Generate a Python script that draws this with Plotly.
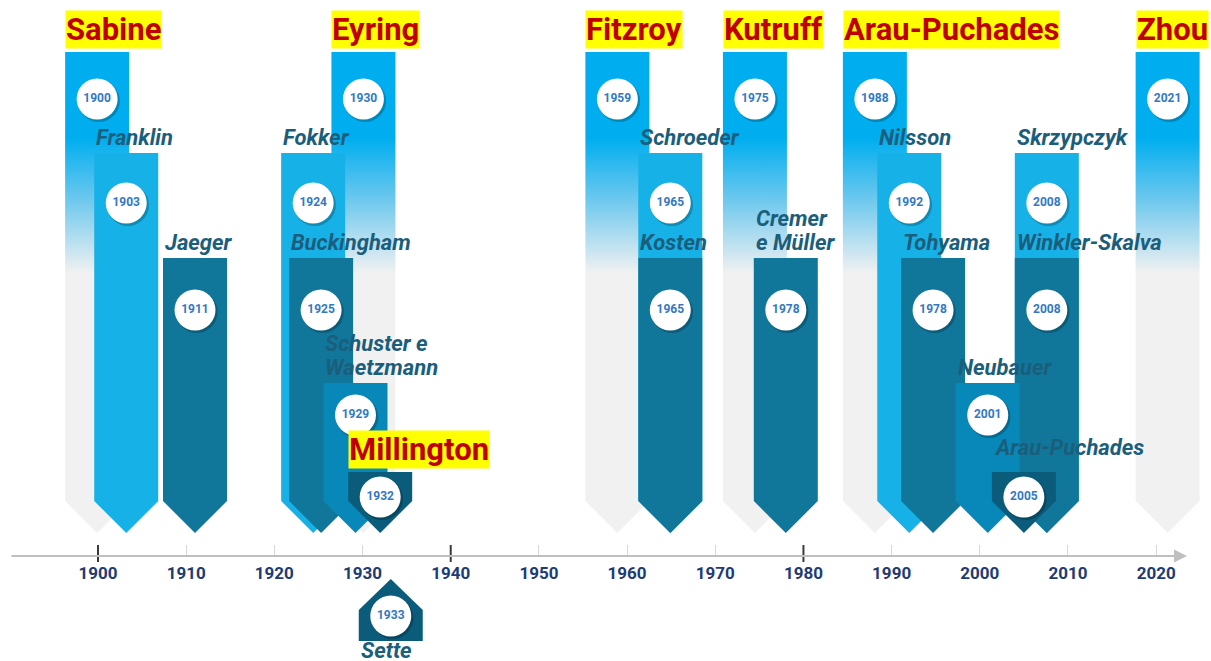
import plotly.graph_objects as go

# ---------------- data ----------------
names = ["Sabine", "Franklin", "Jaeger", "Fokker", "Buckingham", "Schuster e<br>Waetzmann",
         "Eyring", "Millington", "Sette", "Fitzroy", "Schroeder", "Kosten", "Kutruff",
         "Cremer<br>e Müller", "Arau-Puchades", "Nilsson", "Tohyama", "Neubauer",
         "Arau-Puchades", "Skrzypczyk", "Winkler-Skalva", "Zhou"]
year_labels = ["1900", "1903", "1911", "1924", "1925", "1929", "1930", "1932", "1933", "1959",
               "1965", "1965", "1975", "1978", "1988", "1992", "1978", "2001", "2005", "2008",
               "2008", "2021"]
positions = [1899.9, 1903.2, 1911.0, 1924.4, 1925.3, 1929.2, 1930.1, 1932.0, 1933.2, 1958.9,
             1964.9, 1964.9, 1974.5, 1978.0, 1988.1, 1992.0, 1994.7, 2000.9, 2005.0, 2007.6,
             2007.6, 2021.3]
levels = [1, 2, 3, 2, 3, 4, 1, 5, 6, 1, 2, 3, 1, 3, 1, 2, 3, 4, 5, 2, 3, 1]
highlight = [True, False, False, False, False, False, True, True, False, True, False, False,
             True, False, True, False, False, False, False, False, False, True]
tick_years = list(range(1900, 2021, 10))
major_ticks = [1900, 1940, 1980]

# ---------------- styles ----------------
PX_PER_YEAR = 8.818
X0 = 1900 - 98 / PX_PER_YEAR
X1 = X0 + 1211 / PX_PER_YEAR
HW = 32 / PX_PER_YEAR          # half bar width in years
LEVEL_TOP = {1: 52, 2: 153, 3: 258, 4: 383, 5: 472}
CIRCLE_OFF = {1: 47, 2: 50, 3: 52, 4: 32, 5: 25}
SIDE_BOTTOM, TIP = 501, 533
HOUSE = dict(peak=579, shoulder=610, bottom=641, circle=616)
COLORS = {2: "#16B1E7", 3: "#10779B", 4: "#0888B8", 5: "#0B5C7B", 6: "#0B5C7B"}
GRAD = [[0.0, "#00AEEF"], [0.18, "#00AEEF"], [0.31, "#70C9EE"], [0.46, "#F1F1F1"], [1.0, "#F1F1F1"]]
LABEL_SHIFT = {18: 9}
LINE_GAP = 24
NAME_COLOR = "#1B5E7C"
FONT = "Roboto"

fig = go.Figure()

order = sorted(range(len(names)), key=lambda i: (levels[i], positions[i]))
for i in order:
    p, lv = positions[i], levels[i]
    if lv == 6:
        xs = [p - HW, p, p + HW, p + HW, p - HW, p - HW]
        ys = [HOUSE["shoulder"], HOUSE["peak"], HOUSE["shoulder"], HOUSE["bottom"], HOUSE["bottom"], HOUSE["shoulder"]]
    else:
        top = LEVEL_TOP[lv]
        xs = [p - HW, p + HW, p + HW, p, p - HW, p - HW]
        ys = [top, top, SIDE_BOTTOM, TIP, SIDE_BOTTOM, top]
    tr = dict(x=xs, y=ys, mode="lines", fill="toself", line=dict(width=0),
              hoverinfo="skip", showlegend=False)
    if lv == 1:
        tr["fillgradient"] = dict(type="vertical", colorscale=GRAD, start=52, stop=533)
    else:
        tr["fillcolor"] = COLORS[lv]
    fig.add_trace(go.Scatter(**tr))

# circles
cx, cy = [], []
for i in range(len(names)):
    lv = levels[i]
    cx.append(positions[i])
    cy.append(HOUSE["circle"] if lv == 6 else LEVEL_TOP[lv] + CIRCLE_OFF[lv])
fig.add_trace(go.Scatter(x=[v + 0.2 for v in cx], y=[v + 2 for v in cy], mode="markers",
                         marker=dict(size=42, color="rgba(0,0,0,0.22)", line=dict(width=0)),
                         hoverinfo="skip", showlegend=False))
fig.add_trace(go.Scatter(x=cx, y=cy, mode="markers+text", text=year_labels,
                         texttemplate="<b>%{text}</b>", textposition="middle center",
                         textfont=dict(family=FONT, size=12, color="#3378C2"),
                         marker=dict(size=41, color="white", line=dict(width=0)),
                         hoverinfo="skip", showlegend=False))

# name labels
for i in range(len(names)):
    p, lv = positions[i], levels[i]
    if highlight[i]:
        fig.add_annotation(x=p - HW, y=LEVEL_TOP[lv] - 3, xref="x", yref="y",
                           xanchor="left", yanchor="bottom", showarrow=False,
                           text="<b>%s</b>" % names[i], bgcolor="#FFFF00", borderpad=0,
                           font=dict(family=FONT, size=31, color="#C00000"))
    elif lv == 6:
        fig.add_annotation(x=p - HW, y=650, xref="x", yref="y",
                           xanchor="left", yanchor="middle", showarrow=False,
                           height=22, valign="middle",
                           text="<b><i>%s</i></b>" % names[i],
                           font=dict(family=FONT, size=22, color=NAME_COLOR))
    else:
        lines = names[i].split("<br>")
        base = LEVEL_TOP[lv] - 1 - LABEL_SHIFT.get(i, 0)
        for k, line in enumerate(reversed(lines)):
            fig.add_annotation(x=p - HW, y=base - k * LINE_GAP, xref="x", yref="y",
                               xanchor="left", yanchor="bottom", showarrow=False,
                               text="<b><i>%s</i></b>" % line,
                               font=dict(family=FONT, size=22, color=NAME_COLOR))

# axis line with arrow
AXIS_Y = 556
fig.add_annotation(x=X0 + 1187 / PX_PER_YEAR, y=AXIS_Y, ax=X0 + 10 / PX_PER_YEAR, ay=AXIS_Y,
                   xref="x", yref="y", axref="x", ayref="y", text="", showarrow=True,
                   arrowhead=2, arrowsize=1.3, arrowwidth=2, arrowcolor="#BFBFBF")
for t in major_ticks:
    fig.add_shape(type="line", x0=t, x1=t, y0=545, y1=562, xref="x", yref="y",
                  line=dict(color="#3A3A3A", width=2))

fig.update_layout(
    width=1211, height=661, margin=dict(l=0, r=0, t=0, b=0),
    paper_bgcolor="white", plot_bgcolor="white", showlegend=False,
    xaxis=dict(range=[X0, X1], anchor="free", position=1 - AXIS_Y / 661,
               showgrid=False, zeroline=False, showline=False,
               tickmode="array", tickvals=tick_years, ticktext=[str(t) for t in tick_years],
               ticks="inside", ticklen=11, tickcolor="#D9D9D9", tickwidth=1,
               ticklabelstandoff=5,
               tickfont=dict(family=FONT, size=17, color="#1F3B73", weight="bold"),
               fixedrange=True),
    yaxis=dict(range=[661, 0], visible=False, fixedrange=True),
)

fig.write_html("out.html", config={"displayModeBar": False},
               post_script="document.body.style.margin='0';document.body.style.overflow='hidden';")
